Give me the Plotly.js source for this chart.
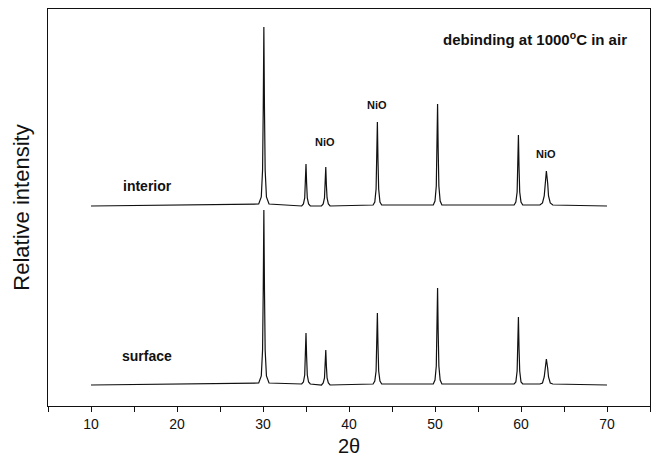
<!DOCTYPE html>
<html>
<head>
<meta charset="utf-8">
<script src="https://cdn.plot.ly/plotly-3.0.1.min.js"></script>
<style>html,body{margin:0;padding:0;background:#fff;}#chart{width:658px;height:459px;}</style>
</head>
<body>
<div id="chart"></div>
<script>
// 2-theta sample points (shared by both patterns)
const twoTheta = [
  10,
  29.5, 29.8, 29.95, 30.03, 30.1, 30.17, 30.25, 30.4, 30.7,
  34.5, 34.7, 34.85, 34.93, 35.0, 35.07, 35.15, 35.3, 35.5,
  36.8, 37.0, 37.15, 37.23, 37.3, 37.37, 37.45, 37.6, 37.8,
  42.8, 43.0, 43.15, 43.23, 43.3, 43.37, 43.45, 43.6, 43.8,
  49.8, 50.0, 50.15, 50.23, 50.3, 50.37, 50.45, 50.6, 50.8,
  59.2, 59.4, 59.55, 59.63, 59.7, 59.77, 59.85, 60.0, 60.2,
  62.2, 62.5, 62.7, 62.8, 62.95, 63.1, 63.2, 63.4, 63.7,
  70
];
// intensities above each pattern's own baseline
const interiorIntensity = [
  0,
  2, 9, 36, 98, 179, 98, 36, 9, 2,
  0, 2, 8, 23, 42, 23, 8, 2, 0,
  0, 2, 8, 21, 39, 21, 8, 2, 0,
  1, 4, 17, 46, 84, 46, 17, 4, 1,
  1, 5, 20, 56, 102, 56, 20, 5, 1,
  1, 4, 14, 39, 71, 39, 14, 4, 1,
  1, 3, 10, 23, 35, 23, 10, 3, 1,
  0
];
const surfaceIntensity = [
  0,
  2, 9, 35, 96, 175, 96, 35, 9, 2,
  1, 3, 10, 29, 52, 29, 10, 3, 1,
  0, 2, 7, 19, 35, 19, 7, 2, 0,
  1, 4, 14, 40, 72, 40, 14, 4, 1,
  1, 5, 19, 53, 97, 53, 19, 5, 1,
  1, 3, 14, 37, 68, 37, 14, 3, 1,
  1, 2, 8, 17, 26, 17, 8, 2, 1,
  0
];
const seriesNames = ["interior", "surface"];
const interiorOffset = 200;
const surfaceOffset = 21;

const xTickVals = [10, 20, 30, 40, 50, 60, 70];
const xTickText = ["10", "20", "30", "40", "50", "60", "70"];

const FONT = "Liberation Sans, Arial, sans-serif";
const lineStyle = {color: "#111", width: 1.2};

const traces = [
  {x: twoTheta, y: interiorIntensity.map(v => v + interiorOffset), type: "scatter", mode: "lines", name: seriesNames[0], line: lineStyle, hoverinfo: "skip"},
  {x: twoTheta, y: surfaceIntensity.map(v => v + surfaceOffset), type: "scatter", mode: "lines", name: seriesNames[1], line: lineStyle, hoverinfo: "skip"}
];

const ann = (text, x, y, size, extra) => Object.assign({text, x, y, xref: "x", yref: "y", showarrow: false, font: {family: FONT, size, color: "#111", weight: "bold"}}, extra || {});

const layout = {
  width: 658, height: 459,
  margin: {l: 48, r: 8, t: 9, b: 53},
  paper_bgcolor: "#fff", plot_bgcolor: "#fff",
  showlegend: false,
  font: {family: FONT, color: "#111"},
  xaxis: {
    range: [5, 75], tickvals: xTickVals, ticktext: xTickText,
    ticks: "outside", ticklen: 5, tickcolor: "#111", tickwidth: 1,
    minor: {dtick: 5, tick0: 0, ticks: "outside", ticklen: 5, tickcolor: "#111", tickwidth: 1},
    showline: true, linecolor: "#111", linewidth: 1, mirror: true,
    showgrid: false, zeroline: false,
    tickfont: {family: FONT, size: 14, color: "#111"},
    title: {text: "2θ", font: {family: FONT, size: 20, color: "#111"}, standoff: 8}
  },
  yaxis: {
    range: [0, 397],
    showticklabels: false, ticks: "",
    showline: true, linecolor: "#111", linewidth: 1, mirror: true,
    showgrid: false, zeroline: false,
    title: {text: "Relative intensity", font: {family: FONT, size: 22, color: "#111"}, standoff: 11}
  },
  annotations: [
    ann(seriesNames[0], 16.6, 220, 14),
    ann(seriesNames[1], 16.5, 50, 14),
    ann("NiO", 37.2, 264, 11),
    ann("NiO", 43.3, 301, 11),
    ann("NiO", 62.9, 252, 11),
    ann("debinding at 1000<sup>o</sup>C in air", 72.6, 367.5, 15, {xanchor: "right"})
  ]
};

Plotly.newPlot("chart", traces, layout, {staticPlot: true, displayModeBar: false});
</script>
</body>
</html>
